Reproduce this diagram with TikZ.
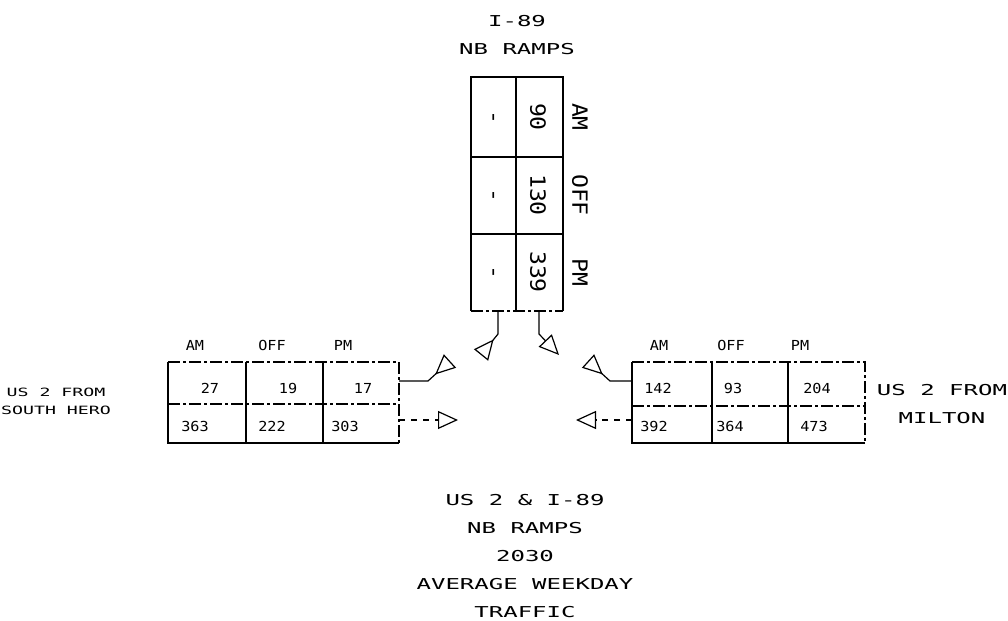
\documentclass[tikz,border=0pt]{standalone}
\usepackage{fontspec}
\setmainfont{DejaVu Sans Mono}[FakeStretch=1.6]
\newfontfamily\narrowfont{DejaVu Sans Mono}[FakeStretch=1.1]
\usetikzlibrary{arrows.meta}

\begin{document}
\begin{tikzpicture}[
    x=0.5pt, y=-0.5pt,
    lbl/.style={inner sep=0pt, font=\fontsize{7.5}{14}\selectfont},
    sidelbl/.style={lbl, align=center},
    cell/.style={inner sep=0pt, font=\narrowfont\fontsize{6.9}{8}\selectfont},
    vlbl/.style={inner sep=0pt, rotate=-90, font=\narrowfont\fontsize{10.5}{12}\selectfont},
    smalllbl/.style={inner sep=0pt, align=center, font=\fontsize{5.7}{9}\selectfont},
    gridline/.style={line width=0.6pt},
    dashline/.style={line width=0.6pt, dash pattern=on 6pt off 1.5pt on 1.5pt off 1.5pt},
    outtip/.style={line width=0.6pt, -{Triangle[open, length=10pt, width=9pt]}},
    intip/.style={line width=0.6pt, -{Triangle[open, reversed, length=10pt, width=9pt]}}
]
\useasboundingbox (0,0) rectangle (1008,621);

% 1. I-89 NB ramps (north leg)
\node[sidelbl] (ramptitle) at (517,35) {I-89\\NB RAMPS};
\draw[gridline] (471,311) -- (471,77) -- (563,77) -- (563,311);
\draw[gridline] (516,77) -- (516,311);
\draw[gridline] (471,157) -- (563,157) (471,234) -- (563,234);
\draw[dashline] (471,311) -- (563,311);
\node[vlbl] (nin1) at (491,117) {-};
\node[vlbl] (nin2) at (491,195) {-};
\node[vlbl] (nin3) at (491,272) {-};
\node[vlbl] (nout1) at (538,117) {90};
\node[vlbl] (nout2) at (538,195) {130};
\node[vlbl] (nout3) at (538,272) {339};
\node[vlbl] (nam) at (580,117) {AM};
\node[vlbl] (noff) at (580,195) {OFF};
\node[vlbl] (npm) at (580,272) {PM};

% 2. US 2 from South Hero (west leg)
\draw[gridline] (399,443) -- (168,443) -- (168,362);
\draw[dashline] (168,362) -- (399,362) -- (399,443);
\draw[dashline] (168,404) -- (399,404);
\draw[gridline] (246,362) -- (246,443) (323,362) -- (323,443);
\node[cell] (wam) at (195,345) {AM};
\node[cell] (woff) at (272,345) {OFF};
\node[cell] (wpm) at (343,345) {PM};
\node[cell] (win1) at (210,388) {27};
\node[cell] (win2) at (288,388) {19};
\node[cell] (win3) at (363,388) {17};
\node[cell] (wout1) at (195,426) {363};
\node[cell] (wout2) at (272,426) {222};
\node[cell] (wout3) at (345,426) {303};
\node[smalllbl] (westname) at (56,401) {US 2 FROM\\SOUTH HERO};

% 3. US 2 from Milton (east leg)
\draw[gridline] (865,443) -- (632,443) -- (632,362);
\draw[dashline] (632,362) -- (865,362) -- (865,443);
\draw[dashline] (632,406) -- (865,406);
\draw[gridline] (712,362) -- (712,443) (788,362) -- (788,443);
\node[cell] (eam) at (659,345) {AM};
\node[cell] (eoff) at (731,345) {OFF};
\node[cell] (epm) at (800,345) {PM};
\node[cell] (ein1) at (658,388) {142};
\node[cell] (ein2) at (733,388) {93};
\node[cell] (ein3) at (817,388) {204};
\node[cell] (eout1) at (654,426) {392};
\node[cell] (eout2) at (730,426) {364};
\node[cell] (eout3) at (814,426) {473};
\node[sidelbl] (eastname) at (942,404) {US 2 FROM\\MILTON};

% 4. Caption
\node[sidelbl] (caption) at (525,556) {US 2 \& I-89\\NB RAMPS\\2030\\AVERAGE WEEKDAY\\TRAFFIC};

% flow arrows
\coordinate (nleft) at (498,311);
\coordinate (nleftbend) at (498,334);
\coordinate (nleftend) at (481,355);
\coordinate (nright) at (539,311);
\coordinate (nrightbend) at (539,334);
\coordinate (nrightend) at (559,355);
\coordinate (wtop) at (399,381);
\coordinate (wtopbend) at (428,381);
\coordinate (wtopend) at (450,361);
\coordinate (wbot) at (399,420);
\coordinate (wbotend) at (458,420);
\coordinate (etop) at (632,381);
\coordinate (etopbend) at (610,381);
\coordinate (etopend) at (588,361);
\coordinate (ebot) at (632,420);
\coordinate (ebotend) at (576,420);

\draw[intip] (nleft) -- (nleftbend) -- (nleftend);
\draw[outtip] (nright) -- (nrightbend) -- (nrightend);
\draw[intip] (wtop) -- (wtopbend) -- (wtopend);
\draw[outtip, dashed] (wbot) -- (wbotend);
\draw[intip] (etop) -- (etopbend) -- (etopend);
\draw[outtip, dashed] (ebot) -- (ebotend);

\end{tikzpicture}
\end{document}
